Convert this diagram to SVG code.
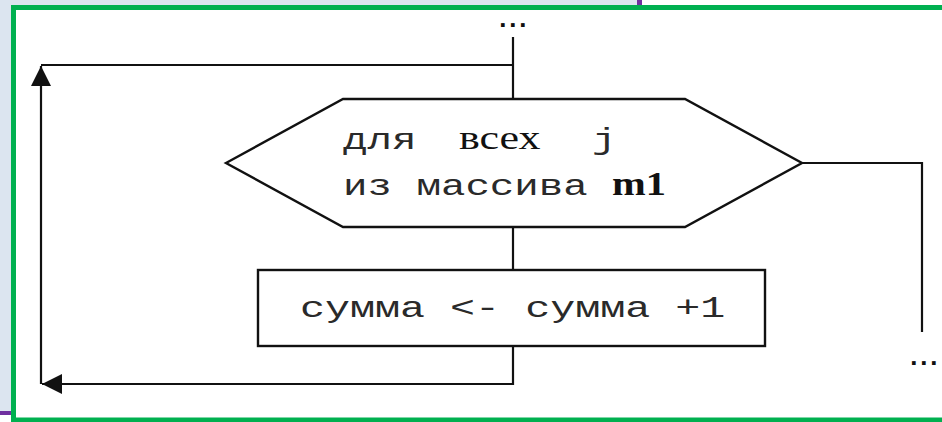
<svg xmlns="http://www.w3.org/2000/svg" width="942" height="422" viewBox="0 0 942 422">
  <defs>
    <style>
      .ln { fill: none; stroke: #111; stroke-width: 2.2; }
      .shape { fill: #fff; stroke: #111; stroke-width: 2.4; }
      .mono { font-family: "Liberation Mono", "DejaVu Sans Mono", monospace; font-size: 30px; fill: #2a2a2a; }
      .serif { font-family: "Liberation Serif", "DejaVu Serif", serif; font-size: 33px; fill: #111; }
      .dots { font-family: "Liberation Mono", monospace; font-size: 26px; fill: #111; font-weight: bold; letter-spacing: -5.6px; }
    </style>
    <marker id="arr" viewBox="0 0 20 20" refX="20" refY="10" markerWidth="20" markerHeight="20" markerUnits="userSpaceOnUse" orient="auto">
      <path d="M0,0 L20,10 L0,20 Z" fill="#111"/>
    </marker>
  </defs>

  <!-- slide background -->
  <rect x="0" y="0" width="942" height="422" fill="#ffffff"/>
  <rect x="0" y="0" width="640" height="411" fill="#dce5f0"/>
  <rect x="637" y="0" width="5" height="7" fill="#7030a0"/>
  <rect x="0" y="411" width="14" height="4" fill="#7030a0"/>
  <rect x="13.5" y="7.5" width="940" height="412.5" fill="#ffffff" stroke="#00b050" stroke-width="5"/>

  <!-- connectors -->
  <g id="connectors">
    <path class="ln" d="M513,37 V99"/>
    <path class="ln" d="M513,227 V270"/>
    <path class="ln" d="M513,346 V384 H42" marker-end="url(#arr)"/>
    <path class="ln" d="M41,384 V66" marker-end="url(#arr)"/>
    <path class="ln" d="M41,65 H513"/>
    <path class="ln" d="M802,163 H922 V332"/>
  </g>

  <g id="dots-top">
    <text class="dots" x="495" y="27">...</text>
  </g>
  <g id="dots-right">
    <text class="dots" x="906" y="365">...</text>
  </g>

  <g id="loop">
    <polygon class="shape" points="226,163 343,99 685,99 802,163 685,227 343,227"/>
    <text class="mono" transform="translate(343,149) scale(1.36,1)">для</text>
    <text class="serif" transform="translate(459,149) scale(1.2,1)" textLength="68" lengthAdjust="spacingAndGlyphs">всех</text>
    <text class="mono" transform="translate(592,149) scale(1.36,1)">j</text>
    <text class="mono" transform="translate(343,195) scale(1.36,1)">из массива</text>
    <text class="serif" font-weight="bold" transform="translate(612,195) scale(1.2,1)" textLength="45" lengthAdjust="spacingAndGlyphs">m1</text>
  </g>

  <g id="assign">
    <rect class="shape" x="258" y="270" width="507" height="76"/>
    <text class="mono" transform="translate(300,317) scale(1.39,1)">сумма &lt;- сумма +1</text>
  </g>
</svg>
